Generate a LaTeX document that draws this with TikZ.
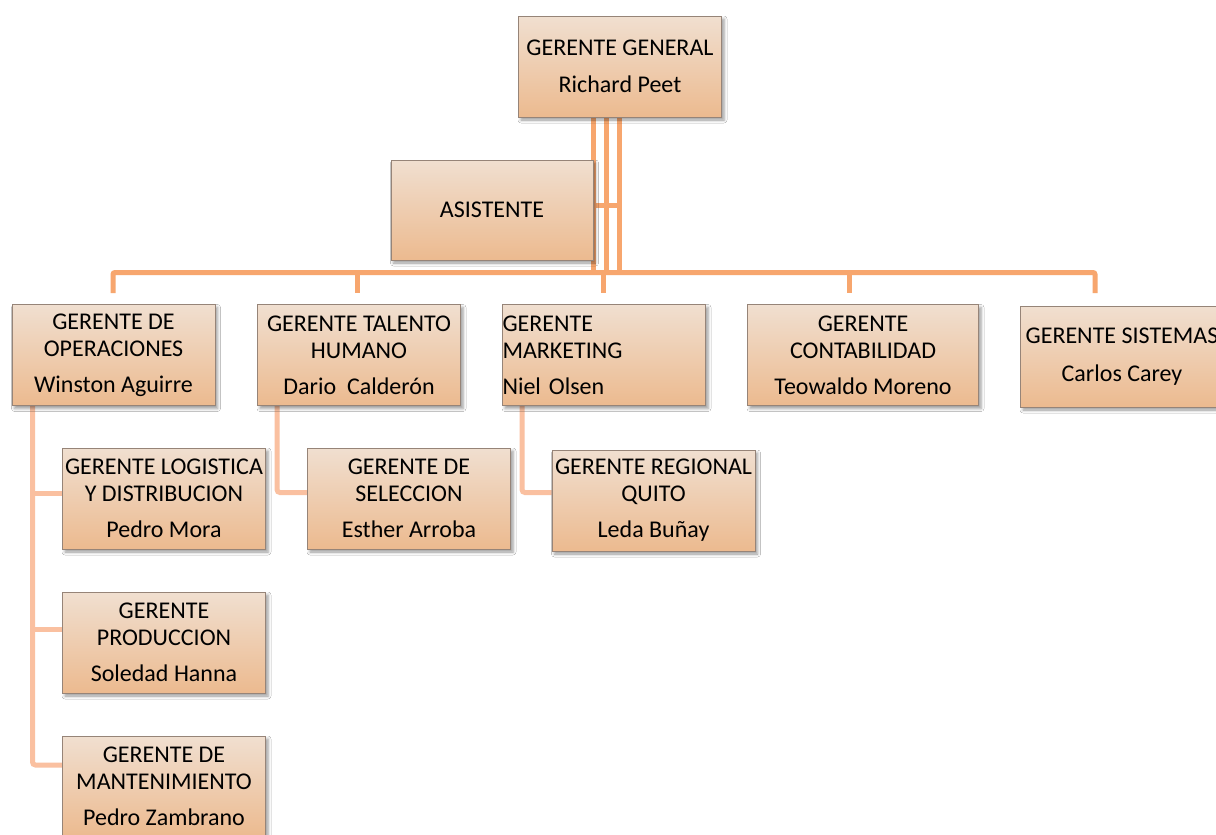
\documentclass[tikz,border=0pt]{standalone}
\usepackage{fontspec}
\setmainfont{Carlito}
\usetikzlibrary{shadows.blur,backgrounds}

\definecolor{trunkcol}{RGB}{247,166,110}
\definecolor{branchcol}{RGB}{250,192,160}
\definecolor{boxtop}{RGB}{240,223,208}
\definecolor{boxbot}{RGB}{236,186,143}
\definecolor{boxedge}{RGB}{150,132,120}

\tikzset{
  orgbox/.style={draw=boxedge, line width=1pt,
    top color=boxtop, bottom color=boxbot,
    minimum width=203pt, minimum height=101pt, inner sep=0pt,
    align=center, font=\fontsize{24}{27}\selectfont,
    blur shadow={shadow xshift=2.5pt, shadow yshift=-3pt,
                 shadow blur radius=3pt, shadow opacity=40}},
  trunk/.style={draw=trunkcol, line width=5pt, rounded corners=2pt},
  branch/.style={draw=branchcol, line width=5pt, rounded corners=3pt},
}

\begin{document}
\begin{tikzpicture}[x=1pt, y=-1pt]
\useasboundingbox (0,0) rectangle (1216,835);
\clip (0,0) rectangle (1216,835);

% top of the chart
\node[orgbox] (gg) at (620,66.5) {GERENTE GENERAL\\[10pt]Richard Peet};
\node[orgbox, minimum width=202pt, minimum height=100pt] (asis) at (492,210) {ASISTENTE};

% second level
\node[orgbox] (ops) at (113.5,355) {GERENTE DE\\OPERACIONES\\[9pt]Winston Aguirre};
\node[orgbox] (tal) at (359,355) {GERENTE TALENTO\\HUMANO\\[9pt]Dario\ \ Calderón};
\node[orgbox, align=left, text width=203pt] (mkt) at (604,355) {GERENTE\\MARKETING\\[9pt]Niel Olsen};
\node[orgbox, minimum width=231pt] (con) at (863,355) {GERENTE\\CONTABILIDAD\\[9pt]Teowaldo Moreno};
\node[orgbox] (sis) at (1122,356.5) {GERENTE SISTEMAS\\[11pt]Carlos Carey};

% third level
\node[orgbox] (log) at (164,498.5) {GERENTE LOGISTICA\\Y DISTRIBUCION\\[9pt]Pedro Mora};
\node[orgbox] (sel) at (409,498.5) {GERENTE DE\\SELECCION\\[9pt]Esther Arroba};
\node[orgbox] (reg) at (653.5,500.5) {GERENTE REGIONAL\\QUITO\\[9pt]Leda Buñay};
\node[orgbox] (pro) at (164,642.5) {GERENTE\\PRODUCCION\\[9pt]Soledad Hanna};
\node[orgbox] (man) at (164,786.5) {GERENTE DE\\MANTENIMIENTO\\[9pt]Pedro Zambrano};

% junction points of the connectors
\coordinate (bl) at (113,272.5);
\coordinate (br) at (1095,272.5);
\coordinate (d1) at (113,293);
\coordinate (d2) at (357.5,293);
\coordinate (d3) at (603,293);
\coordinate (d4) at (849.5,293);
\coordinate (d5) at (1095,293);
\coordinate (s1) at (593.5,272.5);
\coordinate (s2) at (606,272.5);
\coordinate (s3) at (619,272.5);
\coordinate (aj) at (619,205);
\coordinate (oj1) at (32.5,493);
\coordinate (oj2) at (32.5,629);
\coordinate (oj3) at (32.5,765);
\coordinate (tj) at (277,492.5);
\coordinate (mj) at (522,492.5);

\begin{scope}[on background layer]
  \fill[white] (0,0) rectangle (1216,835);
  % general manager to the bus and the assistant
  \foreach \s in {s1,s2,s3} \draw[trunk] (gg.south -| \s) -- (\s);
  \draw[trunk] (asis.east |- aj) -- (aj);
  % horizontal bus with its drops
  \draw[trunk] (d1) -- (bl) -- (br) -- (d5);
  \foreach \d in {d2,d3,d4} \draw[trunk] (\d |- bl) -- (\d);
  % operations branch
  \draw[branch] (ops.south -| oj1) -- (oj3) -- (man.west |- oj3);
  \draw[branch] (oj1) -- (log.west |- oj1);
  \draw[branch] (oj2) -- (pro.west |- oj2);
  % talent and marketing branches
  \draw[branch] (tal.south -| tj) -- (tj) -- (sel.west |- tj);
  \draw[branch] (mkt.south -| mj) -- (mj) -- (reg.west |- mj);
\end{scope}
\end{tikzpicture}
\end{document}
